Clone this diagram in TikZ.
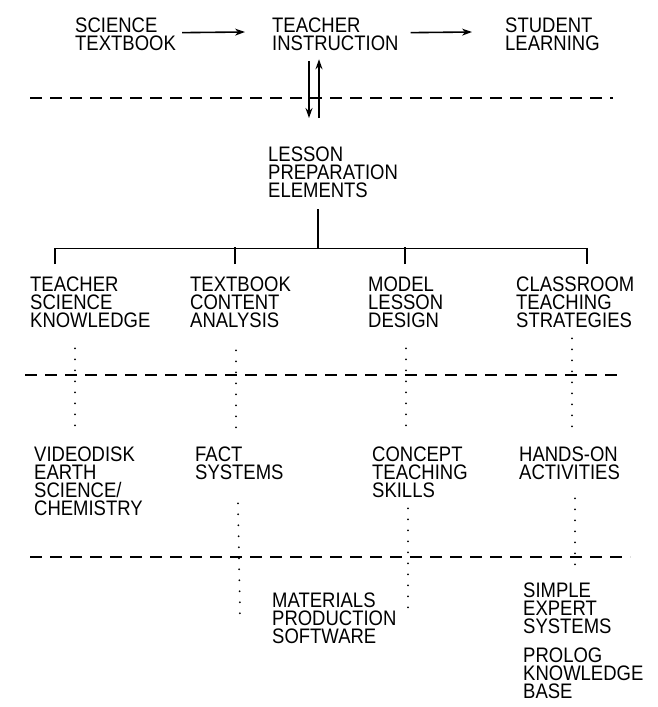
\documentclass[tikz,border=0pt]{standalone}
\usepackage{fontspec}
\setmainfont[FakeStretch=0.88]{Liberation Sans}
\usetikzlibrary{arrows.meta}

\begin{document}
\begin{tikzpicture}
  [x=1pt,y=-1pt,
   every node/.style={anchor=north west,inner sep=0pt,align=left,
     font=\fontsize{21}{18}\selectfont},
   arr/.style={line width=1.6pt,-{Stealth[length=10pt,width=7pt]}},
   treeline/.style={line width=1.5pt},
   sepline/.style={line width=1.4pt,dash pattern=on 12pt off 8pt},
   dotline/.style={line width=2pt,line cap=round,dash pattern=on 0pt off 11pt}]
  \useasboundingbox (0,0) rectangle (658,707);

  \node (st) at (75,18) {SCIENCE\\TEXTBOOK};
  \node (ti) at (272,18) {TEACHER\\INSTRUCTION};
  \node (sl) at (505,18) {STUDENT\\LEARNING};
  \node (lpe) at (268,147) {LESSON\\PREPARATION\\ELEMENTS};
  \node (tsk) at (30,277) {TEACHER\\SCIENCE\\KNOWLEDGE};
  \node (tca) at (190,277) {TEXTBOOK\\CONTENT\\ANALYSIS};
  \node (mld) at (368,277) {MODEL\\LESSON\\DESIGN};
  \node (cts) at (516,277) {CLASSROOM\\TEACHING\\STRATEGIES};
  \node (vid) at (34,447) {VIDEODISK\\EARTH\\SCIENCE/\\CHEMISTRY};
  \node (fs) at (195,447) {FACT\\SYSTEMS};
  \node (cps) at (372,447) {CONCEPT\\TEACHING\\SKILLS};
  \node (hoa) at (519,447) {HANDS-ON\\ACTIVITIES};
  \node (mps) at (272,593) {MATERIALS\\PRODUCTION\\SOFTWARE};
  \node (ses) at (523,583) {SIMPLE\\EXPERT\\SYSTEMS};
  \node (pkb) at (523,648) {PROLOG\\KNOWLEDGE\\BASE};

  % separators
  \foreach \y/\xa/\xb in {98/30/613, 375/25/623, 557/30/630}
    \draw [sepline] (\xa,\y) -- (\xb,\y);

  % top row
  \draw [arr] ([xshift=6pt,yshift=2pt]st.east) -- ([xshift=-27pt,yshift=-14pt]ti.north west);
  \draw [arr] ([xshift=12pt,yshift=2pt]ti.east) -- ([xshift=-33pt,yshift=-14pt]sl.north west);
  \draw [arr] ([xshift=37pt,yshift=-10pt]ti.south west) -- ([xshift=41pt,yshift=29pt]lpe.north west);
  \draw [arr] ([xshift=51pt,yshift=29pt]lpe.north west) -- ([xshift=47pt,yshift=-8pt]ti.south west);

  % tree
  \coordinate (hub) at ([xshift=50pt,yshift=-50pt]lpe.south west);
  \draw [treeline] ([xshift=50pt,yshift=-11pt]lpe.south west) -- (hub);
  \draw [treeline] ([xshift=25pt,yshift=13pt]tsk.north west) |- (hub)
    -| ([xshift=71pt,yshift=13pt]cts.north west);
  \draw [treeline] ([xshift=45pt,yshift=13pt]tca.north west) -- ([xshift=45pt,yshift=30pt]tca.north west);
  \draw [treeline] ([xshift=37pt,yshift=13pt]mld.north west) -- ([xshift=37pt,yshift=30pt]mld.north west);

  % dotted links
  \draw [dotline] ([xshift=45pt,yshift=-20pt]tsk.south west) -- ([xshift=41pt,yshift=12pt]vid.north west);
  \draw [dotline] ([xshift=46pt,yshift=-22pt]tca.south west) -- ([xshift=41pt,yshift=14pt]fs.north west);
  \draw [dotline] ([xshift=38pt,yshift=-20pt]mld.south west) -- ([xshift=34pt,yshift=12pt]cps.north west);
  \draw [dotline] ([xshift=56pt,yshift=-10pt]cts.south west) -- ([xshift=53pt,yshift=12pt]hoa.north west);
  \draw [dotline] ([xshift=43pt,yshift=-23pt]fs.south west) -- ([xshift=-32pt,yshift=-22pt]mps.north west)
    -- ([xshift=-26pt,yshift=-28pt]mps.north west);
  \draw [dotline] ([xshift=36pt,yshift=-10pt]cps.south west) -- ([xshift=136pt,yshift=-25pt]mps.north west);
  \draw [dotline] ([xshift=56pt,yshift=-18pt]hoa.south west) -- ([xshift=52pt,yshift=10pt]ses.north west);
\end{tikzpicture}
\end{document}
